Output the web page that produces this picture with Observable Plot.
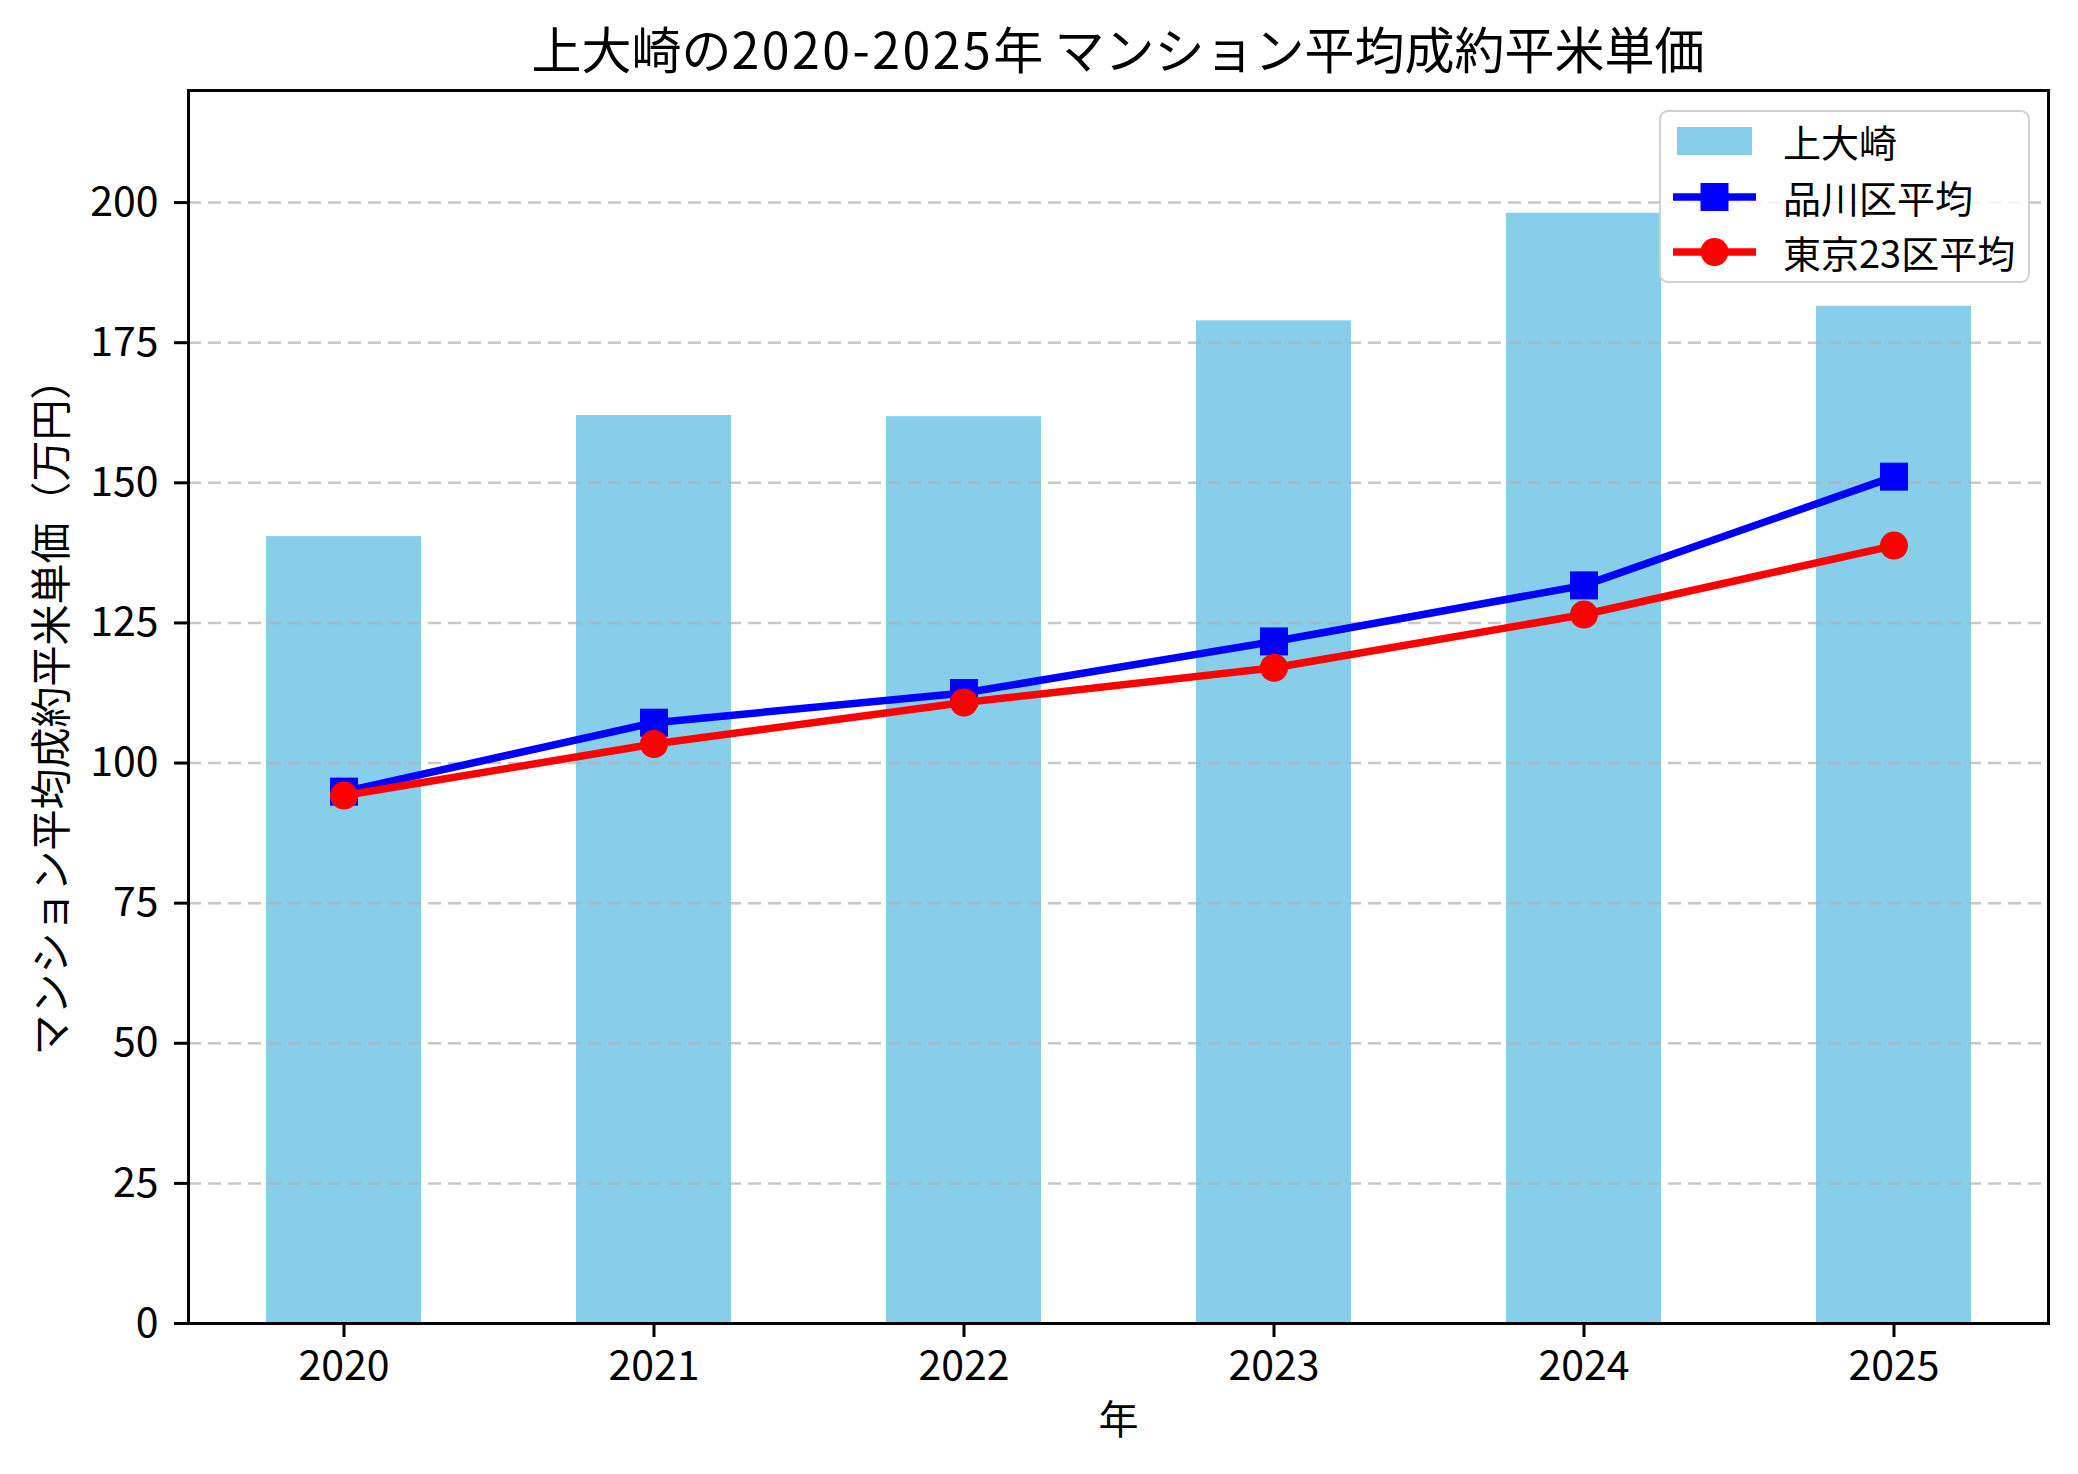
<!DOCTYPE html>
<html><head><meta charset="utf-8">
<script src="https://cdn.jsdelivr.net/npm/d3@7"></script>
<script src="https://cdn.jsdelivr.net/npm/@observablehq/plot@0.6"></script>
<style>
body{margin:0;background:#fff;font-family:'Noto Sans CJK JP',sans-serif;color:#000;}
#wrap{position:relative;width:2078px;height:1474px;overflow:hidden;}
#title{box-sizing:border-box;height:70px;padding:22px 30px 0 188px;text-align:center;font-size:50px;line-height:50px;white-space:nowrap;}
#title .num{letter-spacing:2.5px;}
#legend{position:absolute;left:1659px;top:110px;width:371px;height:173px;box-sizing:border-box;border:2.5px solid #d0d0d0;border-radius:9px;background:rgba(255,255,255,0.8);}
.row{position:absolute;left:0;height:50px;width:360px;}
.row svg{position:absolute;left:10px;top:0;}
.row span{position:absolute;left:122px;top:0;line-height:50px;font-size:38px;white-space:nowrap;}
</style></head>
<body>
<div id="wrap">
<div id="title">上大崎の<span class="num">2020-2025</span>年 マンション平均成約平米単価</div>
<div id="chart"></div>
<div id="legend"></div>
</div>
<script>
const years = [2020, 2021, 2022, 2023, 2024, 2025];
const osaki = [140.4, 162.0, 161.8, 178.9, 198.1, 181.5];
const shinagawa = [94.9, 107.2, 112.5, 121.7, 131.7, 151.1];
const tokyo23 = [94.2, 103.4, 110.8, 117.0, 126.5, 138.8];
const yTicks = [0, 25, 50, 75, 100, 125, 150, 175, 200];
const seriesNames = ["上大崎", "品川区平均", "東京23区平均"];
const yLabel = "マンション平均成約平米単価（万円）";
const xLabel = "年";

const data = years.map((y, i) => ({year: y, osaki: osaki[i], shinagawa: shinagawa[i], tokyo: tokyo23[i]}));

const chart = Plot.plot({
  width: 2078, height: 1404,
  marginLeft: 188, marginRight: 30, marginTop: 20, marginBottom: 151,
  style: {fontFamily: "'Noto Sans CJK JP', sans-serif", background: "white", color: "black"},
  x: {type: "band", domain: years, paddingInner: 0.5, paddingOuter: 0.25},
  y: {domain: [0, 220]},
  marks: [
    Plot.barY(data, {x: "year", y: "osaki", fill: "#87CEEB"}),
    Plot.gridY(yTicks, {stroke: "#b0b0b0", strokeOpacity: 0.7, strokeWidth: 2.5, strokeDasharray: "13,7"}),
    Plot.line(data, {x: "year", y: "shinagawa", stroke: "blue", strokeWidth: 7.5}),
    Plot.dot(data, {x: "year", y: "shinagawa", symbol: "square", r: 15.8, fill: "blue"}),
    Plot.line(data, {x: "year", y: "tokyo", stroke: "red", strokeWidth: 7.5}),
    Plot.dot(data, {x: "year", y: "tokyo", r: 14, fill: "red"}),
    Plot.frame({stroke: "black", strokeWidth: 3}),
    Plot.axisY(yTicks, {tickSize: 14, tickPadding: 16, fontSize: 41, strokeWidth: 3, label: null}),
    Plot.axisX({tickSize: 14, tickPadding: 13, fontSize: 41, strokeWidth: 3, tickFormat: "d", label: null}),
    Plot.text([yLabel], {frameAnchor: "left", dx: -136, rotate: -90, fontSize: 41, textAnchor: "middle"}),
    Plot.text([xLabel], {frameAnchor: "bottom", dy: 98, fontSize: 40, lineAnchor: "middle"})
  ]
});
document.getElementById("chart").appendChild(chart);

// legend
const legend = document.getElementById("legend");
const rowTops = [4, 60, 115];
const handles = [
  `<svg width="90" height="50"><rect x="6" y="11" width="75" height="28" fill="#87CEEB"/></svg>`,
  `<svg width="90" height="50"><line x1="2" x2="85" y1="25" y2="25" stroke="blue" stroke-width="7.5"/><rect x="29.5" y="11" width="28" height="28" fill="blue"/></svg>`,
  `<svg width="90" height="50"><line x1="2" x2="85" y1="25" y2="25" stroke="red" stroke-width="7.5"/><circle cx="43.5" cy="25" r="14" fill="red"/></svg>`
];
seriesNames.forEach((name, i) => {
  const row = document.createElement("div");
  row.className = "row";
  row.style.top = rowTops[i] + "px";
  row.innerHTML = handles[i] + `<span>${name}</span>`;
  legend.appendChild(row);
});
</script>
</body></html>
